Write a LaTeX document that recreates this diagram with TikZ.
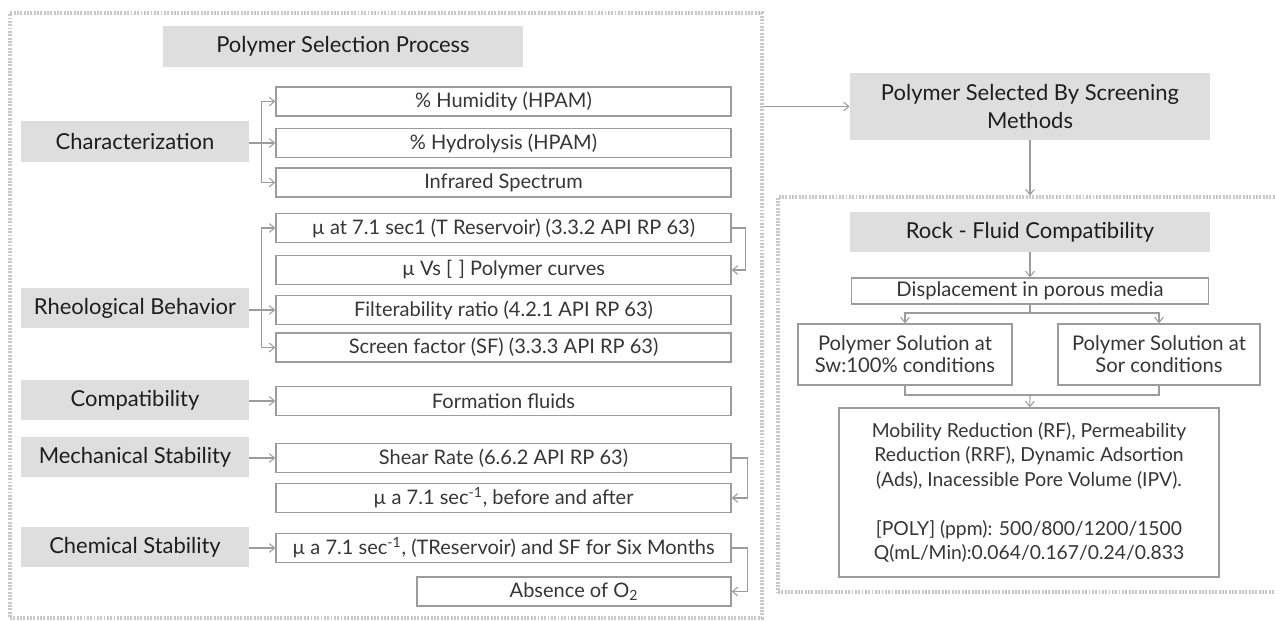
\documentclass[tikz,border=0pt]{standalone}
\usepackage{fontspec}
\setmainfont{Lato}
\usetikzlibrary{arrows.meta}
\definecolor{boxgray}{HTML}{DEDEDE}
\definecolor{linegray}{HTML}{9C9C9C}
\definecolor{dotgray}{HTML}{C9C9C9}
\definecolor{headtxt}{HTML}{1E1E1E}
\definecolor{bodytxt}{HTML}{363636}
\begin{document}
\begin{tikzpicture}[x=0.02cm,y=-0.02cm,
  gbox/.style={fill=boxgray,text=headtxt,inner sep=0pt,align=center,font=\fontsize{12.5}{15.5}\selectfont},
  wbox/.style={draw=linegray,line width=0.8pt,fill=white,text=bodytxt,inner sep=0pt,align=center,font=\fontsize{11.4}{12.5}\selectfont},
  frm/.style={draw=dotgray,line width=1.9pt,dash pattern=on 1.1pt off 0.8pt,inner sep=0pt},
  lnk/.style={draw=linegray,line width=0.6pt},
  arr/.style={lnk,-{Straight Barb[length=3pt,width=5pt]}}]
\useasboundingbox (0,0) rectangle (1275,621);
\node[frm,minimum width=15.04cm,minimum height=12.1cm] (frL) at (386,315.5) {};
\node[frm,minimum width=10.4cm,minimum height=7.9cm] (frR) at (1038,394.5) {};
\node[gbox,minimum width=7.2cm,minimum height=0.82cm] (ttl) at (343,46.5) {Polymer Selection Process};
\foreach \n/\y/\t in {gC/142/Characterization,gR/308/Rheological Behavior,gP/400/Compatibility,gM/457/Mechanical Stability,gS/547/Chemical Stability}{\node[gbox,minimum width=4.56cm,minimum height=0.82cm] (\n) at (135,\y) {\t};}
\foreach \n/\y/\t in {c1/101.5/\% Humidity (HPAM),c2/143/\% Hydrolysis (HPAM),c3/182.5/Infrared Spectrum,r1/228/µ at 7.1 sec1 (T Reservoir) (3.3.2 API RP 63),r2/270/µ Vs [\,\,] Polymer curves,r3/310/Filterability ratio (4.2.1 API RP 63),r4/347.5/Screen factor (SF) (3.3.3 API RP 63),p1/401/Formation fluids,m1/458/Shear Rate (6.6.2 API RP 63),m2/498/{µ a 7.1 sec\textsuperscript{-1}, before and after},k1/548/{µ a 7.1 sec\textsuperscript{-1}, (TReservoir) and SF for Six Months}}{\node[wbox,minimum width=9.1cm,minimum height=0.58cm] (\n) at (503.5,\y) {\t};}
\node[wbox,minimum width=6.28cm,minimum height=0.58cm] (k2) at (574,591.5) {Absence of O\textsubscript{2}};
\draw[arr] (c2.west) ++(-14,0) |- (c1.west);
\draw[arr] (c2.west) ++(-14,0) |- (c3.west);
\draw[arr] (gC.east |- c2) -- (c2.west);
\draw[arr] (r3.west) ++(-14,0) |- (r1.west);
\draw[arr] (r3.west) ++(-14,0) |- (r4.west);
\draw[arr] (gR.east |- r3) -- (r3.west);
\draw[arr] (r1.east) -- ++(14,0) |- (r2.east);
\draw[arr] (gP.east |- p1) -- (p1.west);
\draw[arr] (gM.east |- m1) -- (m1.west);
\draw[arr] (m1.east) -- ++(16,0) |- (m2.east);
\draw[arr] (gS.east |- k1) -- (k1.west);
\draw[arr] (k1.east) -- ++(16,0) |- (k2.east);
\node[gbox,minimum width=7.2cm,minimum height=1.34cm] (sel) at (1030,106.5) {Polymer Selected By Screening\\Methods};
\node[gbox,minimum width=7.2cm,minimum height=0.8cm] (rfc) at (1030,232) {Rock - Fluid Compatibility};
\node[wbox,minimum width=7.14cm,minimum height=0.52cm,font=\fontsize{11.5}{12.5}\selectfont] (dsp) at (1030,291) {Displacement in porous media};
\node[wbox,minimum width=4.28cm,minimum height=1.22cm,font=\fontsize{11.5}{12.5}\selectfont] (sw) at (905,354.5) {Polymer Solution at\\Sw:100\% conditions};
\node[wbox,minimum width=4.04cm,minimum height=1.22cm,font=\fontsize{11.5}{12.5}\selectfont] (sor) at (1159,354.5) {Polymer Solution at\\Sor conditions};
\node[wbox,minimum width=7.6cm,minimum height=3.38cm,font=\fontsize{11}{13.9}\selectfont] (res) at (1029,492.5) {Mobility Reduction (RF), Permeability\\Reduction (RRF), Dynamic Adsortion\\(Ads), Inacessible Pore Volume (IPV).\\[13.9pt][POLY] (ppm): 500/800/1200/1500\\Q(mL/Min):0.064/0.167/0.24/0.833};
\coordinate (brn) at (1030,313);
\coordinate (mrg) at (1030,395);
\draw[arr] (frL.east |- sel) -- (sel.west);
\draw[arr] (sel) -- (sel |- frR.north);
\draw[arr] (rfc) -- (dsp);
\draw[lnk] (dsp) -- (brn);
\draw[arr] (brn) -| (sw);
\draw[arr] (brn) -| (sor);
\draw[lnk] (sw) |- (mrg) -| (sor);
\draw[arr] (mrg) -- (res);
\end{tikzpicture}
\end{document}
